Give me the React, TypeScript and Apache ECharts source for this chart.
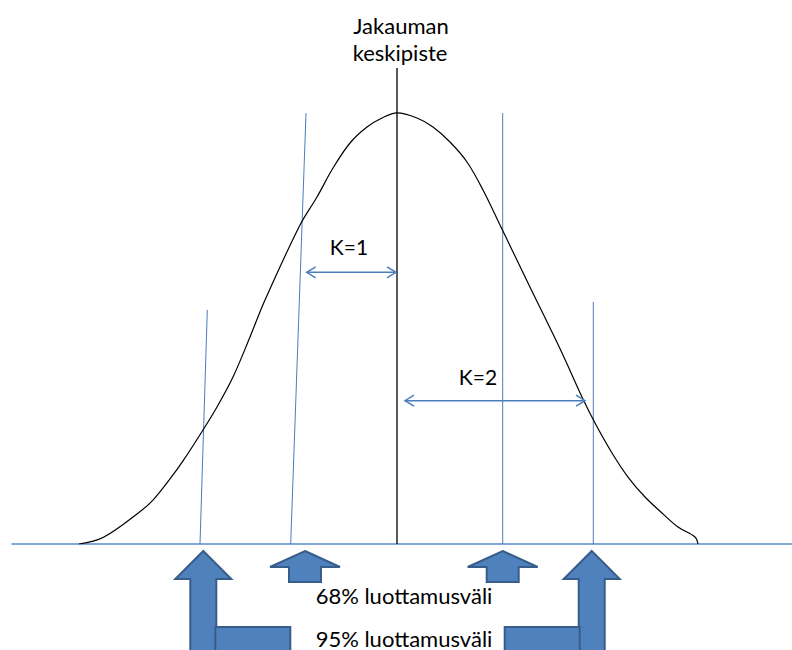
import { useEffect, useRef } from "react";
import * as echarts from "echarts";

// Bell curve (x in standard deviations, y as density)
const curveX = [-3.18, -2.94, -2.6, -2.44, -2.27, -2.14, -1.94, -1.8, -1.64, -1.47, -1.32, -0.97, -0.8, -0.64, -0.47, -0.3, -0.14, 0, 0.2, 0.36, 0.53, 0.7, 0.86, 1.03, 1.31, 1.65, 1.85, 1.98, 2.15, 2.31, 2.48, 2.65, 2.81, 2.98, 3.01];
const curveY = [0, 0.006, 0.0278, 0.0407, 0.0602, 0.0769, 0.1056, 0.1269, 0.1546, 0.1917, 0.2259, 0.2954, 0.3213, 0.3481, 0.3713, 0.3861, 0.3949, 0.3991, 0.3944, 0.3861, 0.3722, 0.3537, 0.3278, 0.2954, 0.2417, 0.1769, 0.1361, 0.112, 0.0843, 0.062, 0.0435, 0.0287, 0.0157, 0.0065, 0];

// Interval guide lines (bottom x, top x, top y)
const guideBottomX = [-1.97, -1.063, 1.057, 1.963];
const guideTopX = [-1.897, -0.91, 1.057, 1.963];
const guideTopY = [0.2167, 0.399, 0.399, 0.2243];

// Mean line
const meanX = 0;
const meanTopY = 0.4407;

// K double arrows
const kLabels = ["K=1", "K=2"];
const kArrowY = [0.2516, 0.1327];
const kArrowFrom = [-0.903, 0.08];
const kArrowTo = [-0.01, 1.88];

// Block arrows under the axis
const smallArrowX = [-0.92, 1.057];
const bigArrowX = [-1.937, 1.947];

const intervalLabels = ["68% luottamusväli", "95% luottamusväli"];
const titleLines = ["Jakauman", "keskipiste"];

const BLUE = "#4a7ebb";
const AXIS_BLUE = "#5b8bc9";
const FILL = "#4f81bd";
const EDGE = "#385d8a";
const FONT = "Lato, 'Open Sans', sans-serif";

function segmentRenderer(color: string, width: number) {
  return (_params: any, api: any) => {
    const p1 = api.coord([api.value(0), api.value(1)]);
    const p2 = api.coord([api.value(2), api.value(3)]);
    return {
      type: "line",
      shape: { x1: p1[0], y1: p1[1], x2: p2[0], y2: p2[1] },
      style: { stroke: color, lineWidth: width },
    };
  };
}

export default function App() {
  const ref = useRef<HTMLDivElement>(null);

  useEffect(() => {
    if (!ref.current) return;
    const chart = echarts.init(ref.current, null, { renderer: "svg" });

    const option: any = {
      animation: false,
      backgroundColor: "#ffffff",
      grid: { left: 12, right: 0, top: 4, bottom: 106 },
      xAxis: {
        type: "value",
        min: -3.85,
        max: 3.95,
        axisLine: { show: true, lineStyle: { color: AXIS_BLUE, width: 1.6 } },
        axisTick: { show: false },
        axisLabel: { show: false },
        splitLine: { show: false },
      },
      yAxis: {
        type: "value",
        min: 0,
        max: 0.5,
        show: false,
        splitLine: { show: false },
      },
      series: [
        {
          type: "custom",
          name: "guides",
          clip: false,
          renderItem: segmentRenderer(BLUE, 1),
          encode: { x: [0, 2], y: [1, 3] },
          data: guideBottomX.map((x, i) => [x, 0, guideTopX[i], guideTopY[i]]),
          silent: true,
          z: 2,
        },
        {
          type: "custom",
          name: "mean",
          clip: false,
          renderItem: segmentRenderer("#000000", 1.3),
          encode: { x: [0, 2], y: [1, 3] },
          data: [[meanX, 0, meanX, meanTopY]],
          silent: true,
          z: 3,
        },
        {
          type: "line",
          name: "curve",
          data: curveX.map((x, i) => [x, curveY[i]]),
          smooth: 0.35,
          showSymbol: false,
          lineStyle: { color: "#000000", width: 1.2 },
          silent: true,
          z: 4,
        },
        {
          type: "custom",
          name: "k-arrows",
          clip: false,
          encode: { x: [1, 2], y: 0 },
          data: kArrowY.map((y, i) => [y, kArrowFrom[i], kArrowTo[i]]),
          renderItem: (_params: any, api: any) => {
            const y = api.value(0);
            const p1 = api.coord([api.value(1), y]);
            const p2 = api.coord([api.value(2), y]);
            const h = 9;
            const w = 5.5;
            const st = { stroke: BLUE, lineWidth: 1.5, fill: "none" };
            return {
              type: "group",
              children: [
                { type: "line", shape: { x1: p1[0], y1: p1[1], x2: p2[0], y2: p2[1] }, style: st },
                { type: "polyline", shape: { points: [[p1[0] + h, p1[1] - w], [p1[0], p1[1]], [p1[0] + h, p1[1] + w]] }, style: st },
                { type: "polyline", shape: { points: [[p2[0] - h, p2[1] - w], [p2[0], p2[1]], [p2[0] - h, p2[1] + w]] }, style: st },
              ],
            };
          },
          silent: true,
          z: 5,
        },
        {
          type: "custom",
          name: "small-arrows",
          clip: false,
          encode: { x: 0, y: 1 },
          data: smallArrowX.map((x) => [x, 0]),
          renderItem: (_params: any, api: any) => {
            const p = api.coord([api.value(0), 0]);
            const tx = p[0];
            const ty = p[1] + 7;
            return {
              type: "polygon",
              shape: {
                points: [
                  [tx, ty],
                  [tx + 35, ty + 16],
                  [tx + 16, ty + 16],
                  [tx + 16, ty + 31],
                  [tx - 16, ty + 31],
                  [tx - 16, ty + 16],
                  [tx - 35, ty + 16],
                ],
              },
              style: { fill: FILL, stroke: EDGE, lineWidth: 2 },
            };
          },
          silent: true,
          z: 6,
        },
        {
          type: "custom",
          name: "big-arrows",
          clip: false,
          encode: { x: 0, y: 1 },
          data: bigArrowX.map((x) => [x, 0]),
          renderItem: (_params: any, api: any) => {
            const x = api.value(0);
            const p = api.coord([x, 0]);
            const tx = p[0];
            const ty = p[1] + 7;
            const dir = x < 0 ? 1 : -1;
            const bottom = ty + 110;
            const barTop = ty + 76;
            const barEnd = tx + dir * 87;
            const barStart = tx + dir * 12;
            return {
              type: "group",
              children: [
                {
                  type: "polygon",
                  shape: {
                    points: [
                      [tx, ty],
                      [tx + 28, ty + 28],
                      [tx + 13, ty + 28],
                      [tx + 13, bottom],
                      [tx - 13, bottom],
                      [tx - 13, ty + 28],
                      [tx - 28, ty + 28],
                    ],
                  },
                  style: { fill: FILL, stroke: EDGE, lineWidth: 2 },
                },
                {
                  type: "rect",
                  shape: {
                    x: Math.min(barStart, barEnd),
                    y: barTop,
                    width: Math.abs(barEnd - barStart),
                    height: bottom - barTop,
                  },
                  style: { fill: FILL, stroke: EDGE, lineWidth: 2 },
                },
              ],
            };
          },
          silent: true,
          z: 6,
        },
      ],
      graphic: [
        { type: "text", x: 401, y: 25, style: { text: titleLines[0], font: `22px ${FONT}`, fill: "#000", textAlign: "center", textVerticalAlign: "middle" } },
        { type: "text", x: 400, y: 52, style: { text: titleLines[1], font: `22px ${FONT}`, fill: "#000", textAlign: "center", textVerticalAlign: "middle" } },
        { type: "text", x: 349, y: 246, style: { text: kLabels[0], font: `21px ${FONT}`, fill: "#000", textAlign: "center", textVerticalAlign: "middle" } },
        { type: "text", x: 478, y: 376, style: { text: kLabels[1], font: `21px ${FONT}`, fill: "#000", textAlign: "center", textVerticalAlign: "middle" } },
        { type: "text", x: 404, y: 595, z: 10, style: { text: intervalLabels[0], font: `22px ${FONT}`, fill: "#000", textAlign: "center", textVerticalAlign: "middle" } },
        { type: "text", x: 404, y: 638, z: 10, style: { text: intervalLabels[1], font: `22px ${FONT}`, fill: "#000", textAlign: "center", textVerticalAlign: "middle" } },
      ],
    };

    chart.setOption(option);
    return () => {
      chart.dispose();
    };
  }, []);

  return (
    <div
      ref={ref}
      style={{ position: "fixed", left: 0, top: 0, width: 792, height: 650, background: "#fff" }}
    />
  );
}
